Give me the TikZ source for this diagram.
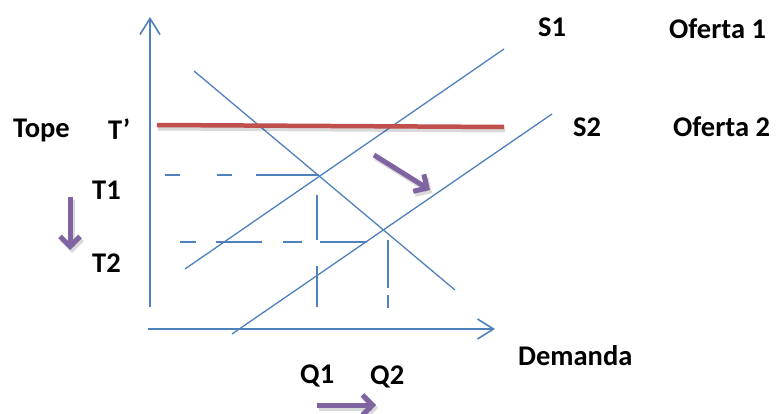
\documentclass[tikz,border=0pt]{standalone}
\usepackage{fontspec}
\setmainfont{Carlito}
\usetikzlibrary{arrows.meta}
\definecolor{ablue}{RGB}{79,129,189}
\definecolor{ared}{RGB}{192,80,77}
\definecolor{apurple}{RGB}{128,100,162}
\begin{document}
\begin{tikzpicture}[x=1pt,y=-1pt,
  lbl/.style={font=\fontsize{28.5}{32}\selectfont\bfseries, inner sep=0pt, anchor=base west},
  curve/.style={draw=ablue, line width=1.3pt},
  axis/.style={draw=ablue, line width=1.6pt, -{Straight Barb[length=16pt,width=20pt,line width=1.6pt]}},
  guide/.style={draw=ablue, line width=1.3pt},
  movearrow/.style={draw=apurple, line width=5pt, -{Straight Barb[length=10pt,width=20pt,line width=5pt]}},
  shadowline/.style={draw=black, opacity=0.15, line width=5pt}]
\useasboundingbox (0,0) rectangle (776,414);
\fill[white] (0,0) rectangle (776,414);
% axes
\coordinate (yb) at (150,307);
\coordinate (yt) at (150,17);
\coordinate (xl) at (148,329);
\coordinate (xr) at (495,329);
\draw[axis] (yb) -- (yt);
\draw[axis] (xl) -- (xr);
% demand and supply
\coordinate (d1) at (194,71);
\coordinate (d2) at (455,290);
\coordinate (s1a) at (185,269);
\coordinate (s1b) at (504,49);
\coordinate (s2a) at (232,334);
\coordinate (s2b) at (552,114);
\draw[curve] (d1) -- (d2);
\draw[curve] (s1a) -- (s1b);
\draw[curve] (s2a) -- (s2b);
% price ceiling
\coordinate (ta) at (157,125);
\coordinate (tb) at (504,127);
\draw[shadowline] ([shift={(1,3)}]ta) -- ([shift={(1,3)}]tb);
\draw[draw=ared, line width=4.5pt] (ta) -- (tb);
% guides
\coordinate (t1a) at (165,175);
\coordinate (t1b) at (319,175);
\draw[guide, dash pattern=on 15pt off 37pt on 15pt off 24pt on 80pt] (t1a) -- (t1b);
\coordinate (q1a) at (317,195);
\coordinate (q1b) at (317,307);
\draw[guide, dash pattern=on 45pt off 26pt on 60pt] (q1a) -- (q1b);
\coordinate (t2a) at (180,242);
\coordinate (t2b) at (367,242);
\draw[guide, dash pattern=on 16pt off 20pt on 46pt off 21pt on 19pt off 18pt on 60pt] (t2a) -- (t2b);
\coordinate (q2a) at (388,240);
\coordinate (q2b) at (388,308);
\draw[guide, dash pattern=on 48pt off 7pt on 20pt] (q2a) -- (q2b);
% shift arrows
\coordinate (a1s) at (374,155);
\coordinate (a1e) at (430,190);
\coordinate (a2s) at (70,197);
\coordinate (a2e) at (70,250);
\coordinate (a3s) at (317,405);
\coordinate (a3e) at (376,405);
\draw[movearrow, opacity=0.15, draw=black] ([shift={(2,3)}]a1s) -- ([shift={(2,3)}]a1e);
\draw[movearrow, opacity=0.15, draw=black] ([shift={(2,3)}]a2s) -- ([shift={(2,3)}]a2e);
\draw[movearrow, opacity=0.15, draw=black] ([shift={(2,3)}]a3s) -- ([shift={(2,3)}]a3e);
\draw[movearrow] (a1s) -- (a1e);
\draw[movearrow] (a2s) -- (a2e);
\draw[movearrow] (a3s) -- (a3e);
% labels
\node[lbl] (tope) at (13,138) {Tope};
\node[lbl] (tp) at (108,140) {T’};
\node[lbl] (t1) at (92,200) {T1};
\node[lbl] (t2) at (92,272) {T2};
\node[lbl] (s1) at (538,37) {S1};
\node[lbl] (of1) at (669,39) {Oferta 1};
\node[lbl] (s2) at (573,137) {S2};
\node[lbl] (of2) at (673,137) {Oferta 2};
\node[lbl] (dem) at (518,365) {Demanda};
\node[lbl] (q1) at (300,383) {Q1};
\node[lbl] (q2) at (370,384) {Q2};
\end{tikzpicture}
\end{document}
